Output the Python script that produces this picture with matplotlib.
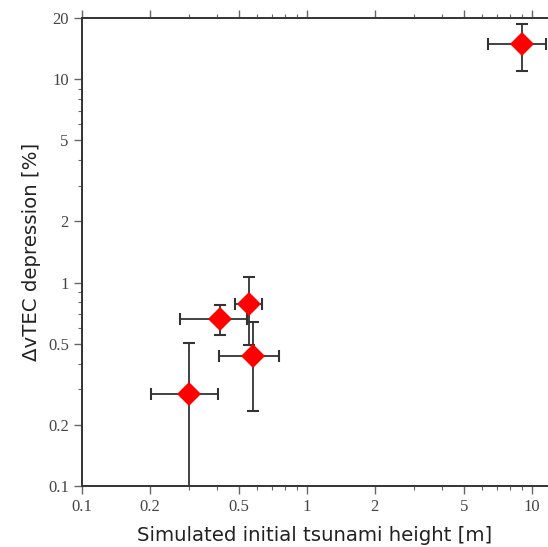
import numpy as np
import matplotlib
matplotlib.use('Agg')
import matplotlib.pyplot as plt
from matplotlib.ticker import FixedLocator, FixedFormatter, LogLocator, NullFormatter

# data: simulated tsunami height vs dTEC depression
height = np.array([0.30, 0.41, 0.555, 0.577, 9.0])
height_lo = np.array([0.202, 0.273, 0.480, 0.406, 6.37])
height_hi = np.array([0.404, 0.543, 0.630, 0.751, 11.6])
dtec = np.array([0.283, 0.66, 0.785, 0.437, 14.9])
dtec_lo = np.array([0.05, 0.552, 0.493, 0.234, 11.0])
dtec_hi = np.array([0.507, 0.776, 1.07, 0.643, 18.7])

xticks = [0.1, 0.2, 0.5, 1, 2, 5, 10]
xtick_labels = ['0.1', '0.2', '0.5', '1', '2', '5', '10']
yticks = [0.1, 0.2, 0.5, 1, 2, 5, 10, 20]
ytick_labels = ['0.1', '0.2', '0.5', '1', '2', '5', '10', '20']

fig = plt.figure(figsize=(5.48, 5.47), dpi=100)
ax = fig.add_axes([82 / 548, 61 / 547, 466 / 548, 468 / 547])

xerr = [height - height_lo, height_hi - height]
yerr = [dtec - dtec_lo, dtec_hi - dtec]
ax.errorbar(height, dtec, xerr=xerr, yerr=yerr, fmt='none',
            ecolor='#333333', elinewidth=1.3, capsize=4, capthick=1.5,
            zorder=2)
ax.plot(height, dtec, 'D', color='red', markersize=12,
        markeredgewidth=0, zorder=3)

ax.set_xscale('log')
ax.set_yscale('log')
ax.set_xlim(0.1, 11.8)
ax.set_ylim(0.1, 20)

ax.xaxis.set_major_locator(FixedLocator(xticks))
ax.xaxis.set_major_formatter(FixedFormatter(xtick_labels))
ax.yaxis.set_major_locator(FixedLocator(yticks))
ax.yaxis.set_major_formatter(FixedFormatter(ytick_labels))
ax.xaxis.set_minor_locator(LogLocator(base=10, subs=[3, 4, 6, 7, 8, 9]))
ax.yaxis.set_minor_locator(LogLocator(base=10, subs=[3, 4, 6, 7, 8, 9]))
ax.xaxis.set_minor_formatter(NullFormatter())
ax.yaxis.set_minor_formatter(NullFormatter())

ax.spines['right'].set_visible(False)
for s in ['left', 'bottom', 'top']:
    ax.spines[s].set_color('#333333')
    ax.spines[s].set_linewidth(1.4)

ax.tick_params(which='both', direction='out', color='#666666',
               top=True, right=False)
ax.tick_params(which='major', length=6, width=1)
ax.tick_params(which='minor', length=3, width=0.8)
for lab in ax.get_xticklabels() + ax.get_yticklabels():
    lab.set_family('Liberation Serif')
    lab.set_fontsize(12)
    lab.set_color('#444444')

ax.set_xlabel('Simulated initial tsunami height [m]', fontsize=14.2,
              color='#222222', labelpad=8)
ax.set_ylabel('ΔvTEC depression [%]', fontsize=14.2, color='#222222',
              labelpad=5)

fig.savefig('out.png', dpi=100)
plt.close()
